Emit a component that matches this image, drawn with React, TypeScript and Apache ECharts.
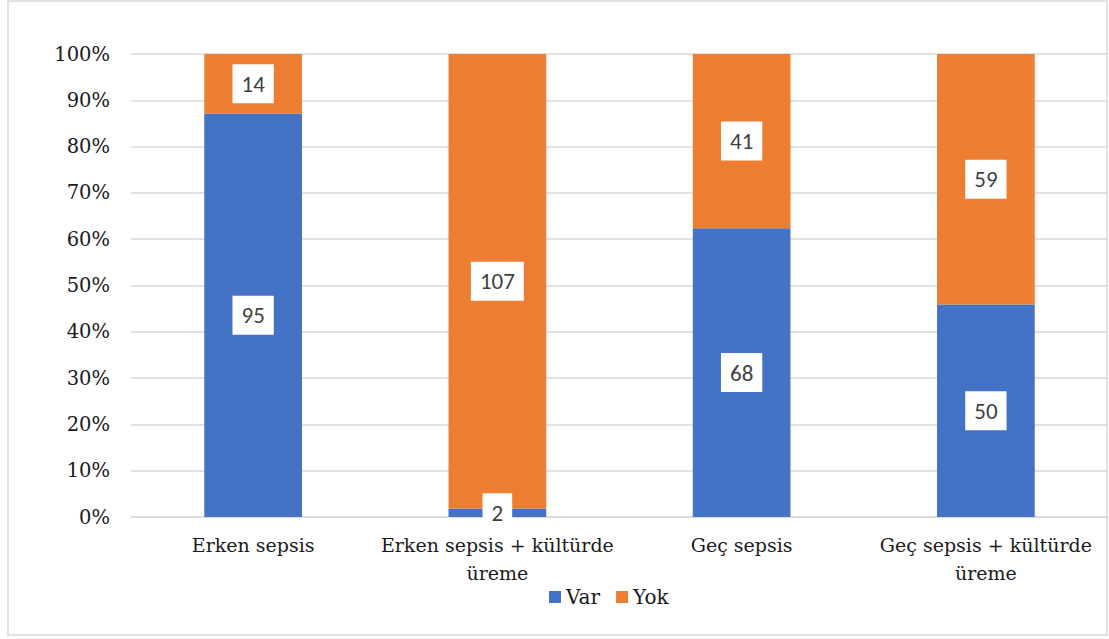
import React, { useEffect, useRef } from "react";
import * as echarts from "echarts";

// Sepsis groups and counts of "Var" / "Yok" in each group
const categories = [
  "Erken sepsis",
  "Erken sepsis + kültürde\nüreme",
  "Geç sepsis",
  "Geç sepsis + kültürde\nüreme",
];
const varCounts = [95, 2, 68, 50];
const yokCounts = [14, 107, 41, 59];
const seriesNames = ["Var", "Yok"];
const yTicks = [0, 100, 10]; // min, max, interval (percent)

const SERIF = "DejaVu Serif, serif";
const SANS = "Calibri, Carlito, Liberation Sans, sans-serif";
const TEXT_SIZE = 19;

export default function App() {
  const ref = useRef<HTMLDivElement>(null);

  useEffect(() => {
    if (!ref.current) return;
    const chart = echarts.init(ref.current, null, { renderer: "svg" });

    const totals = varCounts.map((v, i) => v + yokCounts[i]);
    const share = (arr: number[]) =>
      arr.map((v, i) => ({ value: (v / totals[i]) * 100, count: v }));

    const labelStyle = {
      show: true,
      position: "inside" as const,
      formatter: (p: any) => String(p.data.count),
      fontFamily: SANS,
      fontSize: 23,
      color: "#404040",
      backgroundColor: "#ffffff",
      padding: [8, 9, 8, 9],
    };

    chart.setOption({
      animation: false,
      backgroundColor: "#ffffff",
      graphic: [
        {
          type: "rect",
          shape: { x: 8, y: 1, width: 1099, height: 634 },
          style: { fill: "none", stroke: "#d9d9d9", lineWidth: 1.5 },
          silent: true,
        },
      ],
      grid: {
        left: 131,
        right: 1,
        top: 54,
        bottom: 122,
        containLabel: false,
        outerBoundsMode: "none",
      },
      legend: {
        top: 587,
        left: 549,
        padding: 0,
        itemWidth: 12,
        itemHeight: 12,
        itemGap: 16,
        icon: "rect",
        data: seriesNames,
        textStyle: { fontFamily: SERIF, fontSize: TEXT_SIZE + 1, color: "#1a1a1a" },
      },
      xAxis: {
        type: "category",
        data: categories,
        axisLine: { show: true, lineStyle: { color: "#d9d9d9", width: 1.5 } },
        axisTick: { show: false },
        axisLabel: {
          interval: 0,
          margin: 14,
          fontFamily: SERIF,
          fontSize: TEXT_SIZE,
          lineHeight: 28,
          color: "#1a1a1a",
          align: "center",
        },
      },
      yAxis: {
        type: "value",
        min: yTicks[0],
        max: yTicks[1],
        interval: yTicks[2],
        axisLine: { show: false },
        axisTick: { show: false },
        splitLine: { lineStyle: { color: "#d9d9d9", width: 1.5 } },
        axisLabel: {
          formatter: "{value}%",
          margin: 21,
          fontFamily: SERIF,
          fontSize: TEXT_SIZE + 0.5,
          color: "#1a1a1a",
        },
      },
      series: [
        {
          name: seriesNames[0],
          type: "bar",
          stack: "total",
          barWidth: "40%",
          itemStyle: { color: "#4472C4" },
          label: labelStyle,
          data: share(varCounts),
        },
        {
          name: seriesNames[1],
          type: "bar",
          stack: "total",
          barWidth: "40%",
          itemStyle: { color: "#ED7D31" },
          label: labelStyle,
          data: share(yokCounts),
        },
      ],
    });

    return () => chart.dispose();
  }, []);

  return (
    <div
      ref={ref}
      style={{ position: "absolute", left: 0, top: 0, width: 1109, height: 639 }}
    />
  );
}
